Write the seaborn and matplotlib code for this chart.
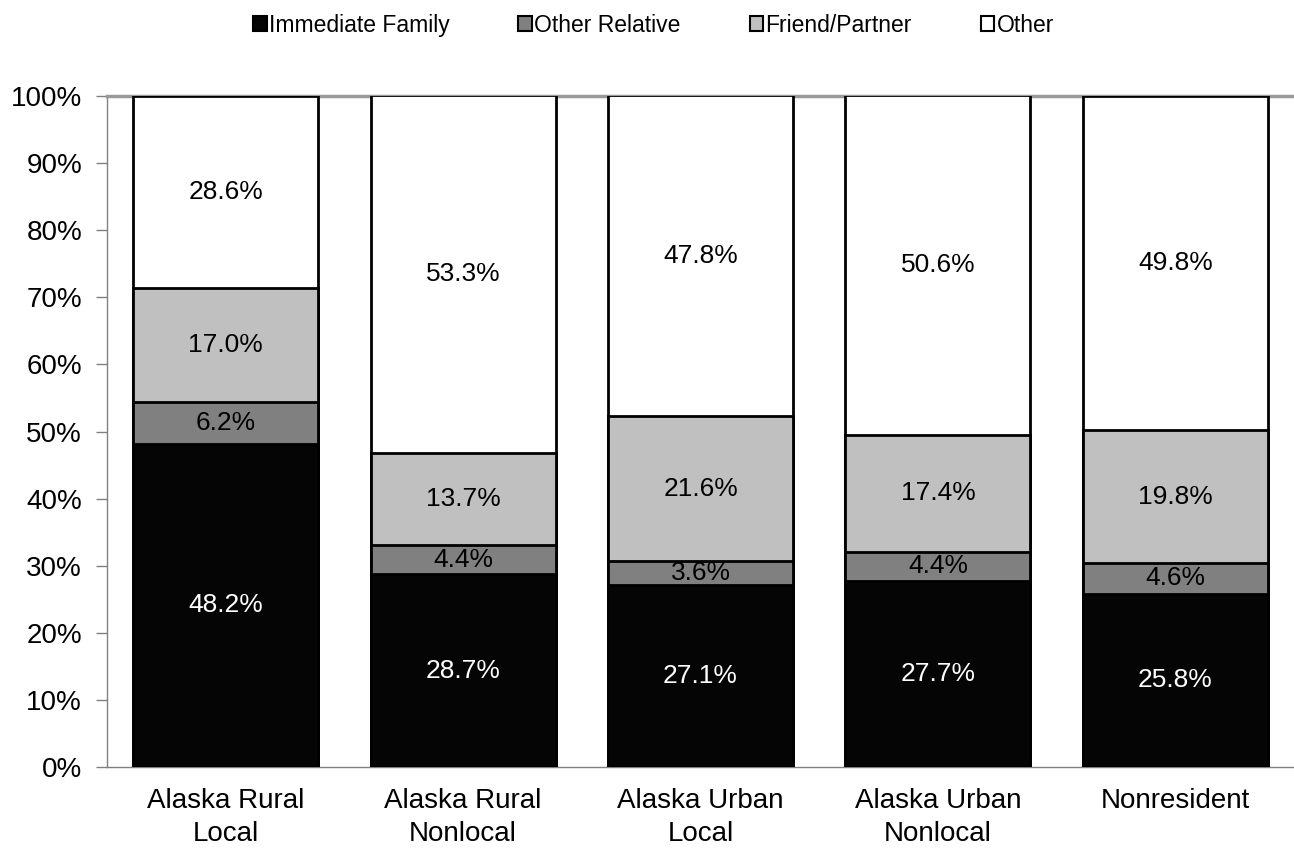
import pandas as pd
import numpy as np
import matplotlib.pyplot as plt
import seaborn as sns
from matplotlib.patches import Patch
from matplotlib.ticker import FixedLocator

categories = ["Alaska Rural\nLocal", "Alaska Rural\nNonlocal", "Alaska Urban\nLocal",
              "Alaska Urban\nNonlocal", "Nonresident"]
series = ["Immediate Family", "Other Relative", "Friend/Partner", "Other"]
immediate = [48.2, 28.7, 27.1, 27.7, 25.8]
other_rel = [6.2, 4.4, 3.6, 4.4, 4.6]
friend = [17.0, 13.7, 21.6, 17.4, 19.8]
other = [28.6, 53.3, 47.8, 50.6, 49.8]
colors = ["#050505", "#808080", "#c0c0c0", "#ffffff"]

sns.set_style("white", {"text.color": "black", "xtick.color": "black", "ytick.color": "black"})
plt.rcParams['font.family'] = ['Liberation Sans', 'DejaVu Sans']

df = pd.DataFrame({"cat": categories, series[0]: immediate, series[1]: other_rel,
                   series[2]: friend, series[3]: other})
vals = df[series].values
cum = np.cumsum(vals, axis=1)

fig = plt.figure(figsize=(12.94, 8.55), dpi=100)
ax = fig.add_axes([0.0827, 0.1029, 0.9173, 0.7848])

# draw stacked bars from the top series down so each overlays the last
for i in range(len(series) - 1, -1, -1):
    sns.barplot(x=df["cat"], y=cum[:, i], color=colors[i], edgecolor="black",
                linewidth=2, width=0.78, saturation=1, ax=ax, zorder=3)

# labels centered in each segment
for j in range(len(categories)):
    start = 0
    for i in range(len(series)):
        v = vals[j, i]
        ax.text(j, start + v / 2, f"{v:.1f}%", ha="center", va="center",
                fontsize=19, color="white" if i == 0 else "black", zorder=5)
        start += v

ax.set_xlim(-0.5, 4.5)
ax.set_ylim(0, 100)
ax.set_xlabel("")
ax.set_ylabel("")
ax.set_yticks(np.arange(0, 101, 10))
ax.set_yticklabels([f"{t}%" for t in range(0, 101, 10)], fontsize=20)
ax.set_xticks(range(len(categories)))
ax.set_xticklabels(categories, fontsize=20, linespacing=1.35)
ax.tick_params(axis="x", which="major", length=0, pad=15, labelcolor="black")
ax.xaxis.set_minor_locator(FixedLocator(np.arange(-0.5, 4.6, 1)))
ax.tick_params(axis="x", which="minor", length=8, color="#808080", width=1, direction="out")
ax.tick_params(axis="y", length=8, color="#808080", width=1, direction="out", left=True,
               pad=10, labelcolor="black")

for s in ["left", "bottom"]:
    ax.spines[s].set_color("#808080")
    ax.spines[s].set_linewidth(1)
ax.spines["top"].set_color("#999999")
ax.spines["top"].set_linewidth(2.5)
ax.spines["right"].set_visible(False)

handles = [Patch(facecolor=c, edgecolor="black", linewidth=1.5) for c in colors]
fig.legend(handles, series, loc="upper center", bbox_to_anchor=(0.505, 1.008), ncol=4,
           frameon=False, fontsize=16.5, handlelength=0.6, handleheight=0.6,
           handletextpad=0.1, columnspacing=3.0, labelcolor="black")

fig.savefig("out.png", dpi=100)
